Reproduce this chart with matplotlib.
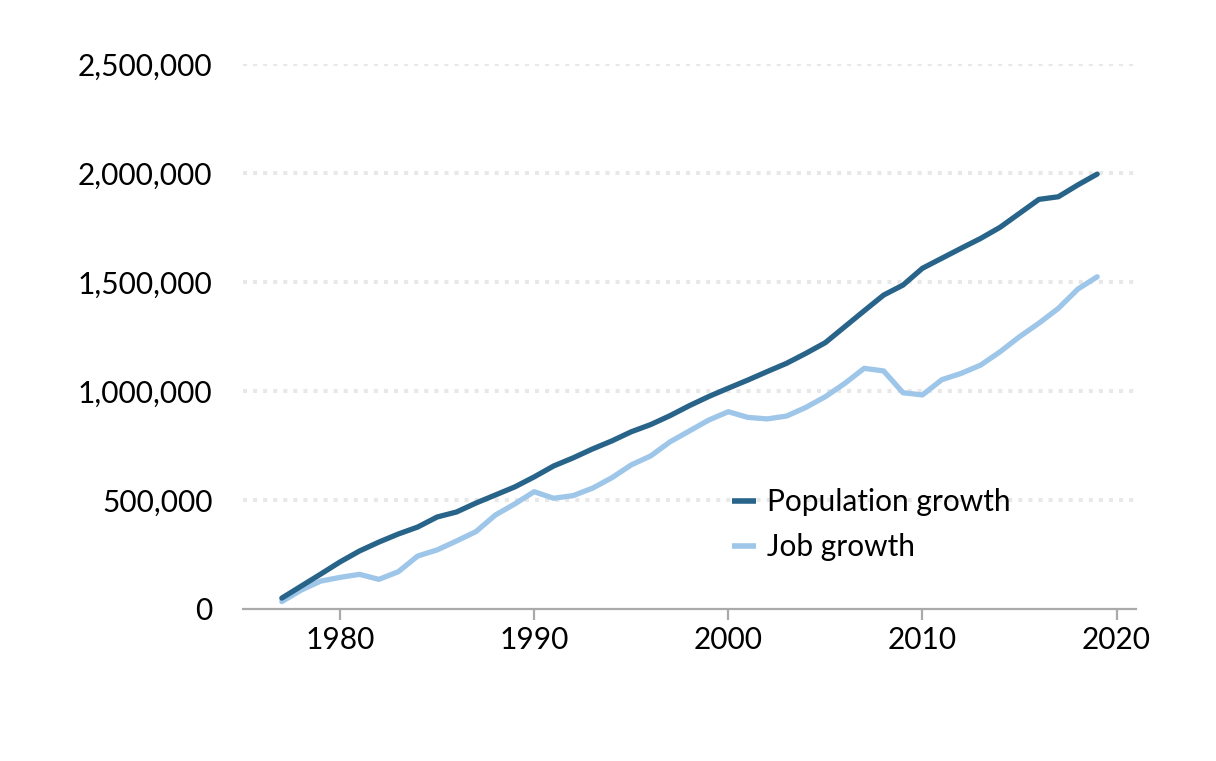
import matplotlib
matplotlib.use("Agg")
import matplotlib.pyplot as plt
from matplotlib.ticker import FuncFormatter

##数据: 1977-2019 累计人口增长与就业增长##
years = list(range(1977, 2020))
population_growth = [
    50000, 105000, 160000, 216000, 266000, 307000, 344000, 376000, 422000, 445000,
    486000, 523000, 560000, 606000, 656000, 693000, 734000, 771000, 813000, 846000,
    887000, 933000, 975000, 1013000, 1050000, 1089000, 1127000, 1173000, 1222000, 1295000,
    1368000, 1440000, 1486000, 1563000, 1609000, 1655000, 1700000, 1751000, 1815000, 1879000,
    1891000, 1945000, 1995000]
job_growth = [
    34000, 87000, 128000, 145000, 159000, 136000, 171000, 243000, 271000, 312000,
    355000, 431000, 482000, 538000, 508000, 520000, 554000, 602000, 661000, 702000,
    767000, 817000, 867000, 905000, 879000, 872000, 885000, 925000, 974000, 1035000,
    1104000, 1092000, 992000, 982000, 1052000, 1081000, 1119000, 1180000, 1249000, 1311000,
    1379000, 1467000, 1524000]
y_ticks = [0, 500000, 1000000, 1500000, 2000000, 2500000]
x_ticks = [1980, 1990, 2000, 2010, 2020]

plt.rcParams['font.family'] = ['Lato', 'DejaVu Sans']

fig = plt.figure(figsize=(12.16, 7.61), dpi=100)
ax = fig.add_axes([243 / 1216, 152 / 761, 893 / 1216, 545 / 761])

##网格线: 方点虚线##
for v in y_ticks[1:]:
    ax.axhline(v, color="#e8e8e8", lw=2.9, dashes=(1.0, 1.5), zorder=0,
               dash_capstyle="butt")

ax.plot(years, population_growth, color="#28648a", lw=3.8, label="Population growth",
        solid_capstyle="round", zorder=3)
ax.plot(years, job_growth, color="#9dc6e9", lw=3.8, label="Job growth",
        solid_capstyle="round", zorder=2)

ax.set_xlim(1975, 2021)
ax.set_ylim(0, 2500000)
ax.set_xticks(x_ticks)
ax.set_yticks(y_ticks)
ax.yaxis.set_major_formatter(FuncFormatter(lambda v, p: f"{int(v):,}"))

for s in ["top", "right", "left"]:
    ax.spines[s].set_visible(False)
ax.spines["bottom"].set_color("#aaaaaa")
ax.spines["bottom"].set_linewidth(1.6)

ax.tick_params(axis="x", colors="#aaaaaa", length=8, width=1.6, labelcolor="black",
               labelsize=21.5, pad=4)
ax.tick_params(axis="y", length=0, labelsize=21.5, pad=22)

leg = ax.legend(loc="upper left", bbox_to_anchor=(0.548, 0.222), frameon=False,
                fontsize=21.5, handlelength=0.8, handletextpad=0.37,
                labelspacing=0.57, borderpad=0, borderaxespad=0)
for line in leg.get_lines():
    line.set_linewidth(4)
    line.set_solid_capstyle("butt")

plt.savefig("out.png", dpi=100)
